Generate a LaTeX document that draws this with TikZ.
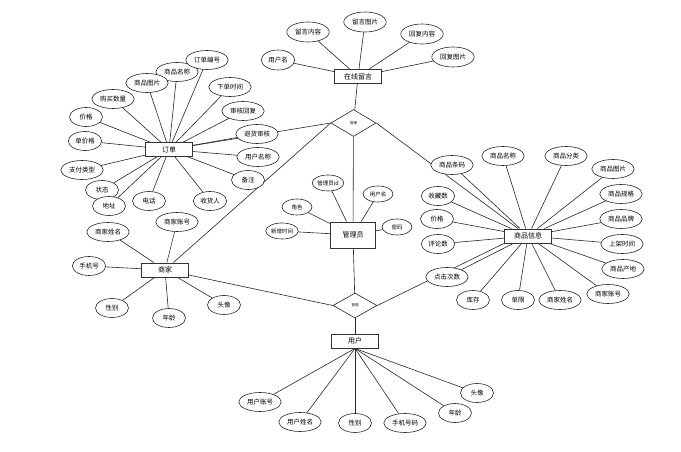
\documentclass[tikz,border=0pt]{standalone}
\usepackage{fontspec}
\setmainfont{Noto Sans CJK SC}
\usetikzlibrary{shapes.geometric}
\usetikzlibrary{backgrounds}

\tikzset{
 entity/.style={draw=black!80, line width=0.9pt, fill=white, minimum width=47pt, minimum height=14pt, inner sep=1pt, font=\fontsize{7}{8}\selectfont},
 attr/.style={ellipse, draw=black!85, line width=0.6pt, fill=white, minimum width=33pt, minimum height=19pt, inner xsep=2pt, inner ysep=1pt, font=\fontsize{6.5}{7}\selectfont},
 sattr/.style={attr, minimum width=30pt, minimum height=16pt, inner xsep=0.5pt, font=\fontsize{5.5}{6}\selectfont},
 rel/.style={diamond, draw=black!85, line width=0.6pt, fill=white, inner sep=0pt, font=\fontsize{3.5}{4}\selectfont},
 link/.style={black!85, line width=0.6pt},
}

\begin{document}
\begin{tikzpicture}[x=1pt, y=-1pt]
\useasboundingbox (0,0) rectangle (681,452);
% entities
\node[entity] (msg) at (358,76.5) {在线留言};
\node[entity, minimum width=45pt, minimum height=26pt] (admin) at (353,235) {管理员};
\node[entity] (goods) at (528,236) {商品信息};
\node[entity] (order) at (169,149.5) {订单};
\node[entity] (shop) at (165,270) {商家};
\node[entity] (user) at (355,341) {用户};
% relations
\node[rel, minimum width=45pt, minimum height=27pt] (r1) at (353.5,123) {管理};
\node[rel, minimum width=44pt, minimum height=25pt] (r2) at (355,305.5) {管理};
\begin{scope}[on background layer]
\draw[link] (msg) -- (r1);
\draw[link] (r1) -- (admin);
\draw[link] (r1.east) -- (goods);
\draw[link] (r1.west) -- (order);
\draw[link] (r1.west) -- (shop);
\draw[link] (admin) -- (r2);
\draw[link] (r2.west) -- (shop);
\draw[link] (r2.east) -- (goods.south west);
\draw[link] (r2) -- (user);
\end{scope}
% attributes
\foreach \n/\x/\y/\t in {m1/278/60/用户名, m2/308/32/留言内容, m3/365/22/留言图片, m4/422/34/回复内容, m5/453/57/回复图片} {
 \node[attr, minimum height=20pt] (\n) at (\x,\y) {\t};
 \begin{scope}[on background layer] \draw[link] (msg) -- (\n); \end{scope}
}
\foreach \n/\x/\y/\t in {o2/177/72/商品名称, o1/207/60/订单编号, o3/147/83/商品图片, o4/113/99/购买数量, o5/86/117/价格, o6/85/141/单价格, o7/82/170/支付类型, o8/102/190/状态, o9/109/206/地址, o10/149/201/电话, o11/210/201/收货人, o12/248/180/备注, o13/258/157/用户名称, o14/257/134/退货审核, o15/243/111/审核回复, o16/230/87/下单时间} {
 \node[attr] (\n) at (\x,\y) {\t};
 \begin{scope}[on background layer] \draw[link] (order) -- (\n); \end{scope}
}
\foreach \n/\x/\y/\t in {g1/452/165/商品条码, g2/503/156/商品名称, g3/566/156/商品分类, g4/613/169/商品图片, g5/621/194/商品规格, g6/621/219/商品品牌, g7/622/244/上架时间, g8/623/269/商品产地, g9/608/294/商家账号, g10/560/300/商家姓名, g11/518/300/单限, g12/473/300/库存, g13/447/277/点击次数, g14/438/244/评论数, g15/437/219/价格, g16/438/196/收藏数} {
 \node[attr] (\n) at (\x,\y) {\t};
 \begin{scope}[on background layer] \draw[link] (goods) -- (\n); \end{scope}
}
\foreach \n/\x/\y/\t in {s1/177/222/商家账号, s2/108/232/商家姓名, s3/89/266/手机号, s4/112/308/性别, s5/169/318/年龄, s6/224/305/头像} {
 \node[attr] (\n) at (\x,\y) {\t};
 \begin{scope}[on background layer] \draw[link] (shop) -- (\n); \end{scope}
}
\foreach \n/\x/\y/\t in {a1/328/183/管理员id, a2/378/194/用户名, a3/397/227/密码, a4/297/207/角色, a5/282/231/新增时间} {
 \node[sattr] (\n) at (\x,\y) {\t};
 \begin{scope}[on background layer] \draw[link] (admin) -- (\n); \end{scope}
}
\foreach \n/\x/\y/\t in {u1/260/402/用户账号, u2/300/422/用户姓名, u3/355/423/性别, u4/405/423/手机号码, u5/455/413/年龄, u6/477/393/头像} {
 \node[attr] (\n) at (\x,\y) {\t};
 \begin{scope}[on background layer] \draw[link] (user.south) -- (\n); \end{scope}
}
\end{tikzpicture}
\end{document}
